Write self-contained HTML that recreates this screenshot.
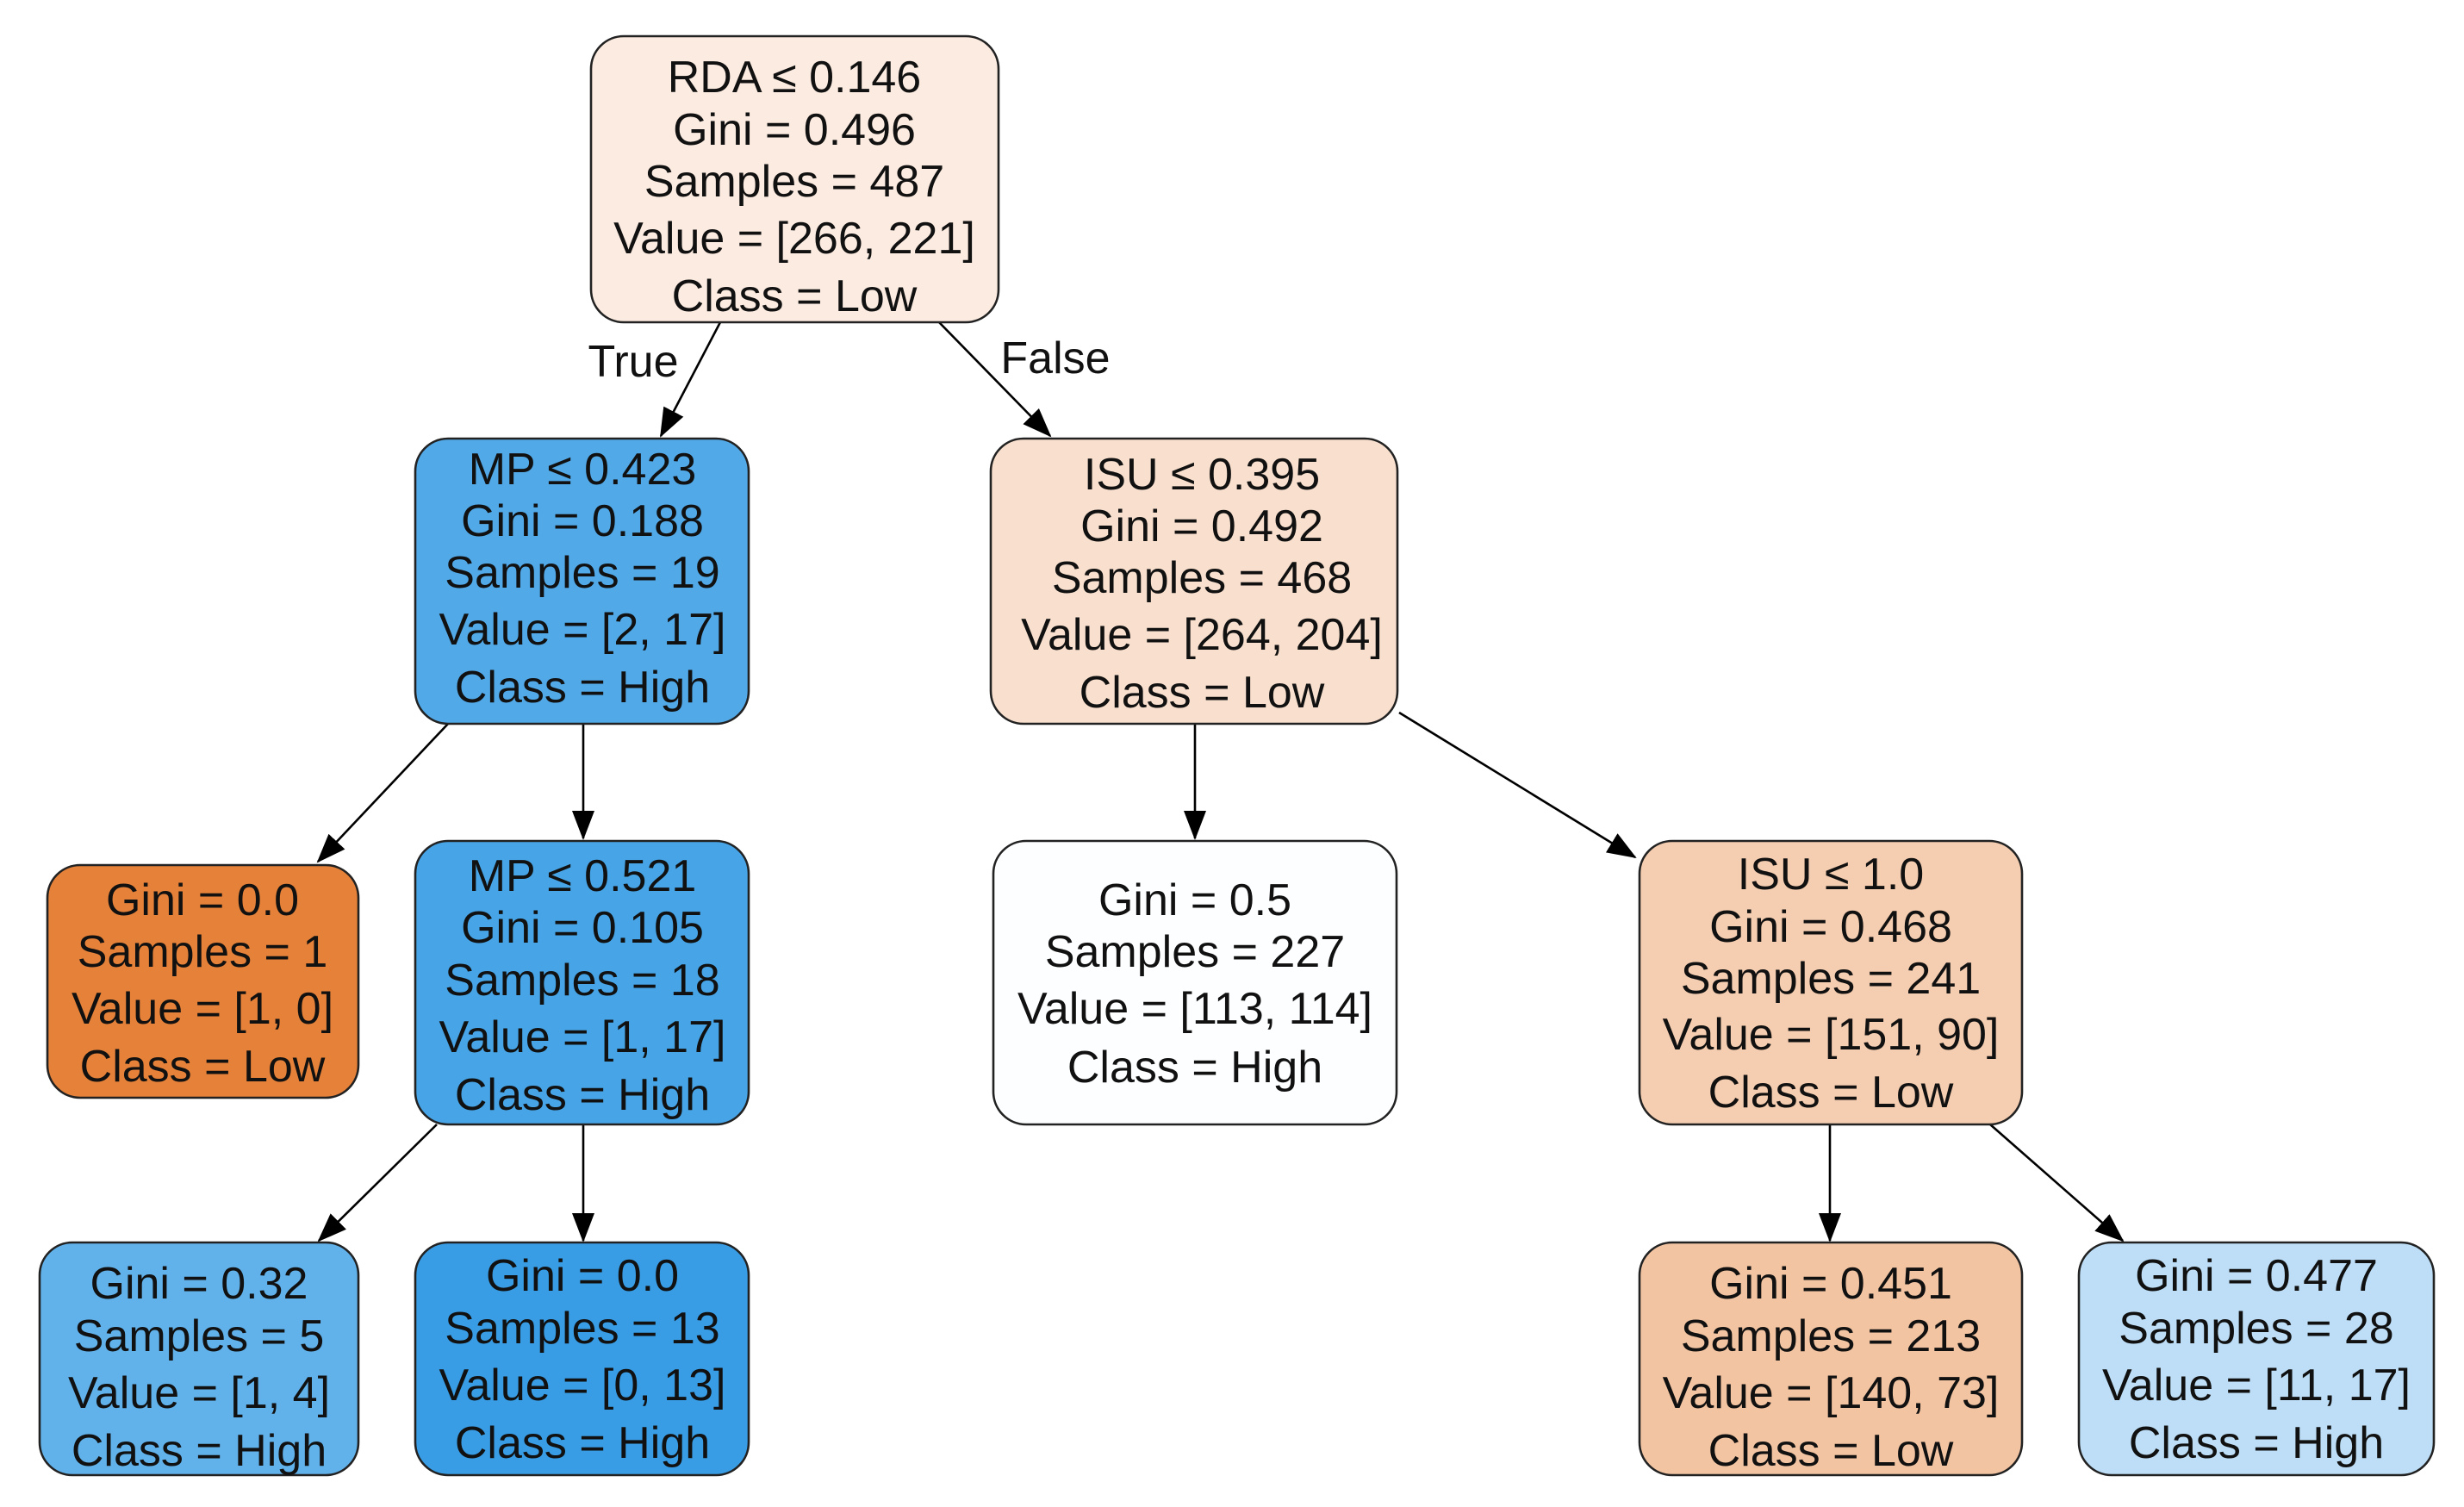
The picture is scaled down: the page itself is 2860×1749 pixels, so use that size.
<!DOCTYPE html>
<html><head><meta charset="utf-8"><style>
html,body{margin:0;padding:0;background:#fff;}
svg{display:block;}
text{font-family:"Liberation Sans",Arial,sans-serif;font-size:52px;fill:#111;text-anchor:middle;}
</style></head><body>
<svg width="2860" height="1749" viewBox="0 0 2860 1749" xmlns="http://www.w3.org/2000/svg">
<defs>
<marker id="a" markerUnits="userSpaceOnUse" markerWidth="34" markerHeight="26" refX="32" refY="13" orient="auto">
<path d="M0,0 L34,13 L0,26 Z" fill="#000"/>
</marker>
</defs>
<g stroke="#000" stroke-width="2.6" fill="none" marker-end="url(#a)">
<line x1="836" y1="374" x2="767" y2="506"/>
<line x1="1090" y1="374" x2="1219" y2="506"/>
<line x1="520" y1="840" x2="369" y2="1000"/>
<line x1="677" y1="840" x2="677" y2="973"/>
<line x1="1387" y1="840" x2="1387" y2="973"/>
<line x1="1624" y1="827" x2="1898" y2="995"/>
<line x1="507" y1="1305" x2="370" y2="1440"/>
<line x1="677" y1="1305" x2="677" y2="1440"/>
<line x1="2124" y1="1305" x2="2124" y2="1440"/>
<line x1="2310" y1="1305" x2="2464" y2="1440"/>
</g>
<text x="735" y="437">True</text>
<text x="1225" y="433">False</text>
<g stroke="#222" stroke-width="2.6">
<rect x="686" y="42" width="473" height="332" rx="38" fill="#fcebe0"/>
<rect x="482" y="509" width="387" height="331" rx="38" fill="#52a9e8"/>
<rect x="1150" y="509" width="472" height="331" rx="38" fill="#f9e0ce"/>
<rect x="55" y="1004" width="361" height="270" rx="38" fill="#e58139"/>
<rect x="482" y="976" width="387" height="329" rx="38" fill="#47a5e7"/>
<rect x="1153" y="976" width="468" height="329" rx="38" fill="#fdfeff"/>
<rect x="1903" y="976" width="444" height="329" rx="38" fill="#f5cdb0"/>
<rect x="46" y="1442" width="370" height="270" rx="38" fill="#61b1ea"/>
<rect x="482" y="1442" width="387" height="270" rx="38" fill="#399de5"/>
<rect x="1903" y="1442" width="444" height="270" rx="38" fill="#f3c4a2"/>
<rect x="2413" y="1442" width="412" height="270" rx="38" fill="#bddef6"/>
</g>
<!-- root -->
<text x="922" y="107">RDA ≤ 0.146</text>
<text x="922" y="168">Gini = 0.496</text>
<text x="922" y="228">Samples = 487</text>
<text x="922" y="294">Value = [266, 221]</text>
<text x="922" y="361">Class = Low</text>
<!-- MP1 -->
<text x="676" y="562">MP ≤ 0.423</text>
<text x="676" y="622">Gini = 0.188</text>
<text x="676" y="682">Samples = 19</text>
<text x="676" y="748">Value = [2, 17]</text>
<text x="676" y="815">Class = High</text>
<!-- ISU1 -->
<text x="1395" y="568">ISU ≤ 0.395</text>
<text x="1395" y="628">Gini = 0.492</text>
<text x="1395" y="688">Samples = 468</text>
<text x="1395" y="754">Value = [264, 204]</text>
<text x="1395" y="821">Class = Low</text>
<!-- orange -->
<text x="235" y="1062">Gini = 0.0</text>
<text x="235" y="1122">Samples = 1</text>
<text x="235" y="1188">Value = [1, 0]</text>
<text x="235" y="1255">Class = Low</text>
<!-- MP2 -->
<text x="676" y="1034">MP ≤ 0.521</text>
<text x="676" y="1094">Gini = 0.105</text>
<text x="676" y="1155">Samples = 18</text>
<text x="676" y="1221">Value = [1, 17]</text>
<text x="676" y="1288">Class = High</text>
<!-- G0.5 -->
<text x="1387" y="1062">Gini = 0.5</text>
<text x="1387" y="1122">Samples = 227</text>
<text x="1387" y="1188">Value = [113, 114]</text>
<text x="1387" y="1256">Class = High</text>
<!-- ISU2 -->
<text x="2125" y="1032">ISU ≤ 1.0</text>
<text x="2125" y="1093">Gini = 0.468</text>
<text x="2125" y="1153">Samples = 241</text>
<text x="2125" y="1218">Value = [151, 90]</text>
<text x="2125" y="1285">Class = Low</text>
<!-- L0.32 -->
<text x="231" y="1507">Gini = 0.32</text>
<text x="231" y="1568">Samples = 5</text>
<text x="231" y="1634">Value = [1, 4]</text>
<text x="231" y="1701">Class = High</text>
<!-- L0.0 -->
<text x="676" y="1498">Gini = 0.0</text>
<text x="676" y="1559">Samples = 13</text>
<text x="676" y="1625">Value = [0, 13]</text>
<text x="676" y="1692">Class = High</text>
<!-- L0.451 -->
<text x="2125" y="1507">Gini = 0.451</text>
<text x="2125" y="1568">Samples = 213</text>
<text x="2125" y="1634">Value = [140, 73]</text>
<text x="2125" y="1701">Class = Low</text>
<!-- L0.477 -->
<text x="2619" y="1498">Gini = 0.477</text>
<text x="2619" y="1559">Samples = 28</text>
<text x="2619" y="1625">Value = [11, 17]</text>
<text x="2619" y="1692">Class = High</text>
</svg>
</body></html>
